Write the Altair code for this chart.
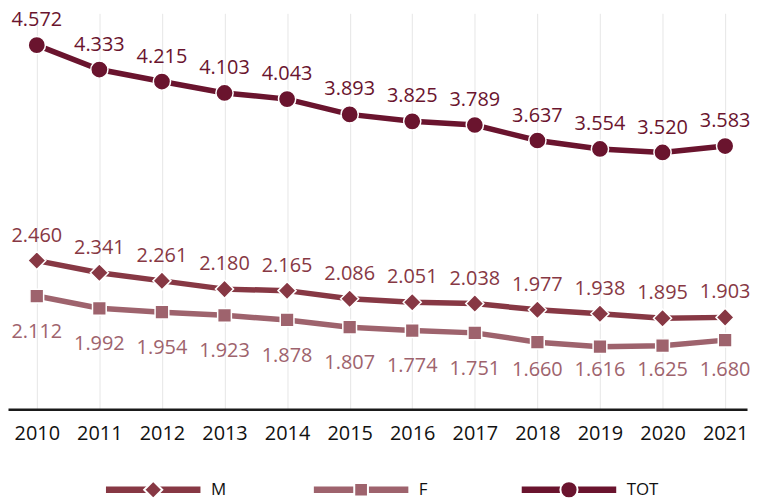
import altair as alt
import pandas as pd

years = list(range(2010, 2022))
series = ["M", "F", "TOT"]
tot_values = [4572, 4333, 4215, 4103, 4043, 3893, 3825, 3789, 3637, 3554, 3520, 3583]
m_values = [2460, 2341, 2261, 2180, 2165, 2086, 2051, 2038, 1977, 1938, 1895, 1903]
f_values = [2112, 1992, 1954, 1923, 1878, 1807, 1774, 1751, 1660, 1616, 1625, 1680]

colors = ["#873844", "#9E636D", "#6A142E"]
shapes = ["diamond", "square", "circle"]
sizes = [330, 190, 300]

rows = []
for name, vals in zip(series, [m_values, f_values, tot_values]):
    for y, v in zip(years, vals):
        rows.append({"year": y, "series": name, "value": v})
df = pd.DataFrame(rows)
legend_df = pd.DataFrame({"series": series})

color_scale = alt.Scale(domain=series, range=colors)
FONT = "Open Sans"
Y_DOMAIN = [1003, 4884]

x_enc = alt.X(
    "year:Q",
    scale=alt.Scale(domain=[2009.54, 2021.35], nice=False, zero=False),
    axis=alt.Axis(
        values=years, format="d", title=None, grid=True, gridColor="#e6e6e6",
        gridWidth=1, ticks=False, domainColor="#1a1a1a", domainWidth=2.5,
        labelFontSize=20, labelColor="#111111", labelFont=FONT, labelPadding=14,
        labelFlush=False, labelOverlap=False,
    ),
)
y_enc = alt.Y("value:Q", scale=alt.Scale(domain=Y_DOMAIN, nice=False, zero=False), axis=None)

base = alt.Chart(df)

lines = base.mark_line(strokeWidth=5.5).encode(
    x=x_enc, y=y_enc,
    color=alt.Color("series:N", scale=color_scale, legend=None),
    detail="series:N",
)

point_layers = []
for s, shp, sz in zip(series, shapes, sizes):
    point_layers.append(
        base.transform_filter(alt.datum.series == s).mark_point(
            filled=True, shape=shp, size=sz, stroke="white", strokeWidth=1.5, opacity=1
        ).encode(
            x=x_enc, y=y_enc,
            fill=alt.Fill("series:N", scale=color_scale, legend=None),
        )
    )

label_expr = "replace(format(datum.value, ','), ',', '.')"

labels_up = base.transform_filter(
    alt.FieldOneOfPredicate(field="series", oneOf=["M", "TOT"])
).transform_calculate(label=label_expr).mark_text(
    dy=-25, fontSize=20, font=FONT, baseline="middle"
).encode(
    x=x_enc, y=y_enc, text="label:N",
    color=alt.Color("series:N", scale=color_scale, legend=None),
)

labels_down = base.transform_filter(alt.datum.series == "F").transform_calculate(
    label=label_expr, lab_y="max(datum.value - 351, 1390)"
).mark_text(fontSize=20, font=FONT, baseline="middle").encode(
    x=x_enc,
    y=alt.Y("lab_y:Q", scale=alt.Scale(domain=Y_DOMAIN, nice=False, zero=False), axis=None),
    text="label:N",
    color=alt.Color("series:N", scale=color_scale, legend=None),
)

main = alt.layer(lines, *point_layers, labels_up, labels_down)

# custom legend (line + marker + label)
lx = alt.X("series:N", sort=series,
           scale=alt.Scale(type="point", domain=series, range=[146, 564], padding=0),
           axis=None)
ly = alt.value(479)
lbase = alt.Chart(legend_df)
leg_bar = lbase.mark_point(
    shape="M-1,-0.068H1V0.068H-1Z", size=9025, filled=True, opacity=1, strokeWidth=0
).encode(x=lx, y=ly, fill=alt.Fill("series:N", scale=color_scale, legend=None))
leg_marks = []
for s, shp, sz in zip(series, shapes, sizes):
    leg_marks.append(
        lbase.transform_filter(alt.datum.series == s).mark_point(
            filled=True, shape=shp, size=sz, stroke="white", strokeWidth=2, opacity=1
        ).encode(x=lx, y=ly, fill=alt.Fill("series:N", scale=color_scale, legend=None))
    )
leg_text = lbase.mark_text(
    align="left", baseline="middle", dx=58, fontSize=17, font=FONT, color="#111111"
).encode(x=lx, y=ly, text="series:N")

legend = alt.layer(leg_bar, *leg_marks, leg_text)

chart = alt.layer(main, legend).resolve_scale(x="independent").properties(
    width=743, height=398, padding={"left": 0, "top": 0, "right": 0, "bottom": 0}
).configure_view(stroke=None)

chart.save("out.html", embed_options={"renderer": "svg", "actions": False})
